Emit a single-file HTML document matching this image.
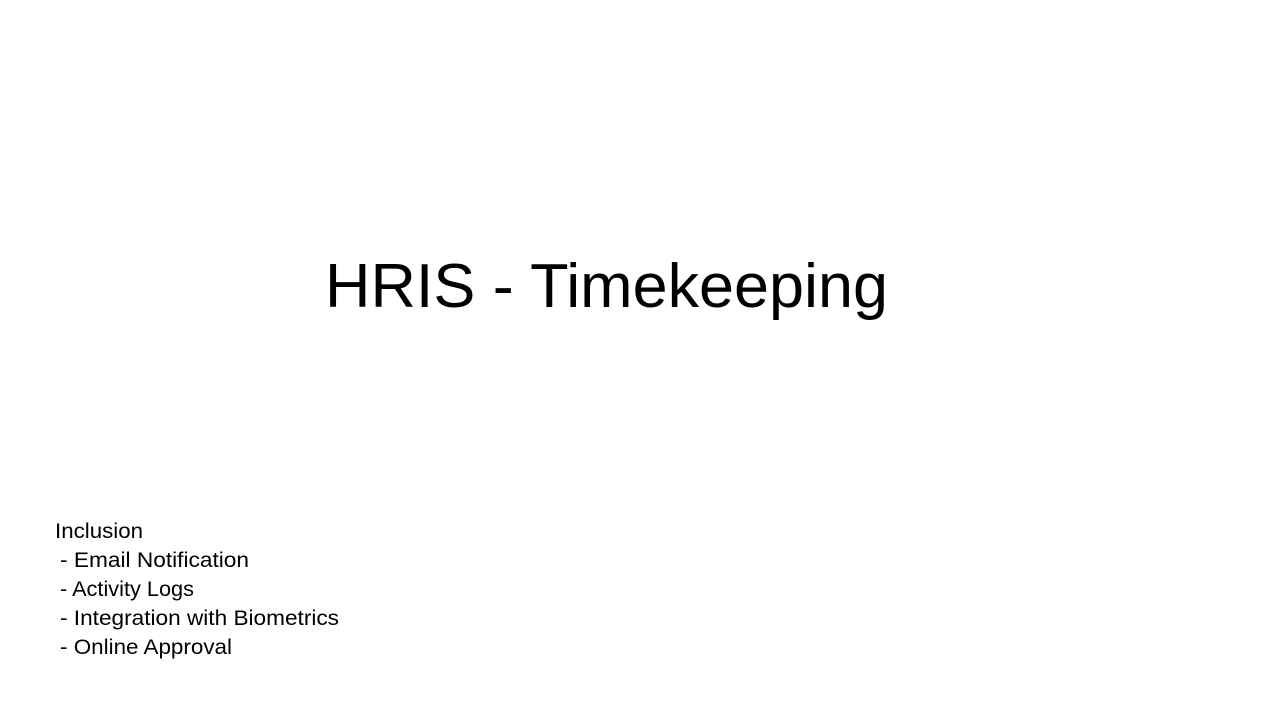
<!DOCTYPE html>
<html>
<head>
<meta charset="utf-8">
<style>
  html,body{margin:0;padding:0;background:#fff;}
  svg{display:block;}
  text{font-family:"Liberation Sans", sans-serif;fill:#000;}
</style>
</head>
<body>
<svg width="1280" height="720" viewBox="0 0 1280 720">
  <rect x="0" y="0" width="1280" height="720" fill="#fff"/>
  <text x="325" y="307" font-size="62" textLength="563" lengthAdjust="spacingAndGlyphs">HRIS - Timekeeping</text>
  <g>
    <text x="55" y="538" font-size="21" textLength="88" lengthAdjust="spacingAndGlyphs">Inclusion</text>
    <text x="60" y="567" font-size="21" textLength="189" lengthAdjust="spacingAndGlyphs">- Email Notification</text>
    <text x="60" y="596" font-size="21" textLength="134" lengthAdjust="spacingAndGlyphs">- Activity Logs</text>
    <text x="60" y="625" font-size="21" textLength="279" lengthAdjust="spacingAndGlyphs">- Integration with Biometrics</text>
    <text x="60" y="654" font-size="21" textLength="172" lengthAdjust="spacingAndGlyphs">- Online Approval</text>
  </g>
</svg>
</body>
</html>
